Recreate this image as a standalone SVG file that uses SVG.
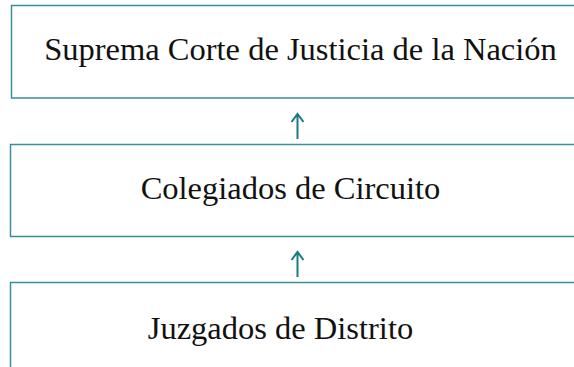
<svg xmlns="http://www.w3.org/2000/svg" width="574" height="367" viewBox="0 0 574 367">
  <style>
    .box { fill: #ffffff; stroke: #3a8e98; stroke-width: 1.5; }
    .lbl { font-family: "Liberation Serif", "Times New Roman", serif; font-size: 32.5px; fill: #111111; text-anchor: middle; }
    .conn { fill: none; stroke: #1b7a84; stroke-width: 2; stroke-linecap: butt; stroke-linejoin: miter; }
  </style>
  <rect width="574" height="367" fill="#ffffff"/>
  <g id="node-suprema">
    <rect class="box" x="11.5" y="5.5" width="600" height="92.5"/>
    <text class="lbl" x="300.5" y="60">Suprema Corte de Justicia de la Nación</text>
  </g>
  <g id="node-colegiados">
    <rect class="box" x="10.5" y="144.5" width="600" height="92"/>
    <text class="lbl" x="290.5" y="198.5">Colegiados de Circuito</text>
  </g>
  <g id="node-juzgados">
    <rect class="box" x="10.5" y="282.5" width="600" height="120"/>
    <text class="lbl" x="280.5" y="339">Juzgados de Distrito</text>
  </g>
  <g id="connectors">
    <path class="conn" d="M297.5 139 V113.5 M291.5 122 L297.5 114 L303.5 122"/>
    <path class="conn" d="M297.5 277 V251.5 M291.5 260 L297.5 252 L303.5 260"/>
  </g>
</svg>
